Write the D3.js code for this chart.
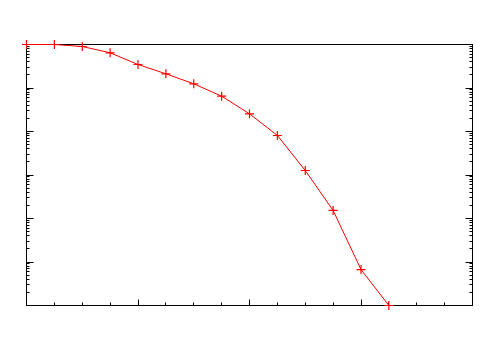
<!DOCTYPE html>
<html>
<head>
<meta charset="utf-8">
<script src="https://cdn.jsdelivr.net/npm/d3@7"></script>
<style>
    body { margin: 0; background: #fff; }
    svg { display: block; }
</style>
</head>
<body>
<svg id="chart" width="500" height="350"></svg>
<script>

// sample index and value (log scale)
let x_values = [0, 1, 2, 3, 4, 5, 6, 7, 8, 9, 10, 11, 12, 13]
let y_values = [1, 1, 0.90, 0.645, 0.347, 0.212, 0.125, 0.0648, 0.0255, 0.0081, 0.00127, 1.53e-4, 6.7e-6, 1e-6]

let x_domain = [0, 16]
let y_domain = [1e-6, 1]

let width = 500
let height = 350
let margin = { left: 26.5, right: 27.5, top: 44.5, bottom: 44.5 }

let svg = d3.select('#chart')

let x = d3.scaleLinear().domain(x_domain).range([margin.left, width - margin.right])
let y = d3.scaleLog().domain(y_domain).range([height - margin.bottom, margin.top])

let minor_x = d3.range(x_domain[0], x_domain[1] + 1)
let major_x = minor_x.filter((d) => d % 4 == 0)

let major_y = d3.range(-6, 1).map((p) => Math.pow(10, p))
let minor_y = []
for (let p = -6; p < 0; p++) {
    for (let m = 2; m < 10; m++) minor_y.push(m * Math.pow(10, p))
}

function crisp(v) {
    return Math.round(v - 0.5) + 0.5
}

// ticks on the bottom axis point inward
let ticks = svg.append('g').attr('stroke', '#000').attr('stroke-width', 1)

ticks.selectAll('.xt')
    .data(minor_x.filter((d) => d > x_domain[0] && d < x_domain[1]))
    .join('line')
    .attr('class', 'xt')
    .attr('x1', (d) => crisp(x(d)))
    .attr('x2', (d) => crisp(x(d)))
    .attr('y1', y(y_domain[0]))
    .attr('y2', (d) => y(y_domain[0]) - (major_x.includes(d) ? 6 : 3))

// left and right axes carry the same log ticks
for (let side of ['left', 'right']) {
    let x0 = side == 'left' ? x(x_domain[0]) : x(x_domain[1])
    let dir = side == 'left' ? 1 : -1

    ticks.selectAll('.yt-major-' + side)
        .data(major_y)
        .join('line')
        .attr('class', 'yt-major-' + side)
        .attr('x1', x0)
        .attr('x2', x0 + dir * 7)
        .attr('y1', (d) => crisp(y(d)))
        .attr('y2', (d) => crisp(y(d)))

    ticks.selectAll('.yt-minor-' + side)
        .data(minor_y)
        .join('line')
        .attr('class', 'yt-minor-' + side)
        .attr('x1', x0)
        .attr('x2', x0 + dir * 3)
        .attr('y1', (d) => crisp(y(d)))
        .attr('y2', (d) => crisp(y(d)))
}

svg.append('rect')
    .attr('x', x(x_domain[0]))
    .attr('y', y(y_domain[1]))
    .attr('width', x(x_domain[1]) - x(x_domain[0]))
    .attr('height', y(y_domain[0]) - y(y_domain[1]))
    .attr('fill', 'none')
    .attr('stroke', '#000')
    .attr('stroke-width', 1)

let points = x_values.map((d, i) => ({ x: d, y: y_values[i] }))

let line = d3.line().x((d) => x(d.x)).y((d) => y(d.y))

svg.append('path')
    .datum(points)
    .attr('d', line)
    .attr('fill', 'none')
    .attr('stroke', '#ff0000')
    .attr('stroke-width', 1)

let marker_size = 4.5

svg.append('g')
    .selectAll('path')
    .data(points)
    .join('path')
    .attr('d', (d) => {
        let cx = x(d.x)
        let cy = y(d.y)
        return `M${cx - marker_size},${cy}H${cx + marker_size}M${cx},${cy - marker_size}V${cy + marker_size}`
    })
    .attr('stroke', '#ff0000')
    .attr('stroke-width', 1.2)
    .attr('fill', 'none')

</script>
</body>
</html>
